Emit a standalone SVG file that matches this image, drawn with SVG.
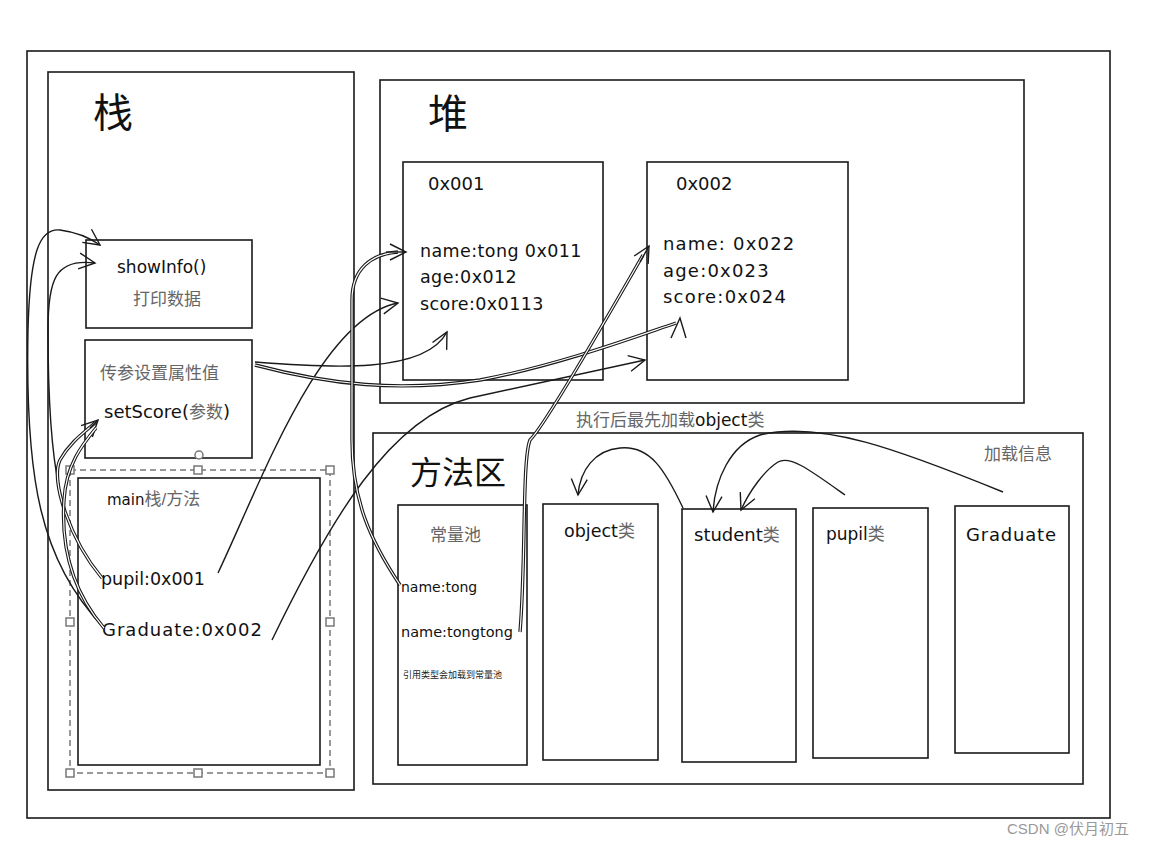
<svg xmlns="http://www.w3.org/2000/svg" width="1158" height="846" viewBox="0 0 1158 846">
<defs>
<style>
.box{fill:none;stroke:#1a1a1a;stroke-width:1.6}
.ln{fill:none;stroke:#1a1a1a;stroke-width:1.4}
.dbl{fill:none;stroke:#1a1a1a;stroke-width:3.4}
.dbli{fill:none;stroke:#fff;stroke-width:1.2}
.hw{font-family:"DejaVu Sans","Liberation Sans",sans-serif;fill:#111}
.cn{font-family:"Liberation Sans","Noto Sans CJK SC",sans-serif;fill:#666}
.big{font-family:"Liberation Serif","Noto Sans CJK SC",serif;fill:#111}
.hd{fill:#fff;stroke:#777;stroke-width:1.5}
</style>
<marker id="ah" viewBox="0 0 20 20" refX="18" refY="10" markerWidth="20" markerHeight="20" markerUnits="userSpaceOnUse" orient="auto">
<path d="M2,2 L18,10 L2,18" fill="none" stroke="#1a1a1a" stroke-width="1.4"/>
</marker>
</defs>
<rect width="1158" height="846" fill="#fff"/>

<g id="frame"><rect class="box" x="27" y="51" width="1083" height="767"/></g>

<g id="stack">
<rect class="box" x="48" y="72" width="306" height="718"/>
<text class="big" x="93" y="127" font-size="40">栈</text>
</g>
<g id="heap">
<rect class="box" x="380" y="80" width="644" height="323"/>
<text class="big" x="428" y="128" font-size="40">堆</text>
</g>
<g id="obj1">
<rect class="box" x="403" y="162" width="200" height="218"/>
<text class="hw" x="428" y="190" font-size="18">0x001</text>
<text class="hw" font-size="17.5" letter-spacing="0.4"><tspan x="420" y="257">name:tong 0x011</tspan><tspan x="420" y="283">age:0x012</tspan><tspan x="420" y="310">score:0x0113</tspan></text>
</g>
<g id="obj2">
<rect class="box" x="647" y="162" width="201" height="218"/>
<text class="hw" x="676" y="190" font-size="18">0x002</text>
<text class="hw" font-size="18" letter-spacing="1.2"><tspan x="663" y="250">name: 0x022</tspan><tspan x="663" y="277">age:0x023</tspan><tspan x="663" y="303">score:0x024</tspan></text>
</g>
<g id="showInfo">
<rect class="box" x="86" y="240" width="166" height="88"/>
<text class="hw" x="117" y="273" font-size="17">showInfo()</text>
<text class="cn" x="133" y="305" font-size="17">打印数据</text>
</g>
<g id="setScore">
<rect class="box" x="85" y="340" width="167" height="118"/>
<text class="cn" x="100" y="379" font-size="17">传参设置属性值</text>
<text class="hw" x="104" y="418" font-size="18">setScore(<tspan class="cn" font-size="17">参数</tspan>)</text>
</g>
<g id="main">
<rect class="box" x="78" y="478" width="242" height="287"/>
<text class="hw" x="107" y="505" font-size="15">main<tspan class="cn" font-size="17">栈/方法</tspan></text>
<text class="hw" x="101" y="585" font-size="17.5">pupil:0x001</text>
<text class="hw" x="102" y="636" font-size="18" letter-spacing="1">Graduate:0x002</text>
</g>
<g id="selection">
<rect x="70" y="470" width="260" height="303" fill="none" stroke="#777" stroke-width="1.5" stroke-dasharray="6,4"/>
<rect class="hd" x="66" y="466" width="8" height="8"/><rect class="hd" x="194" y="466" width="8" height="8"/><rect class="hd" x="326" y="466" width="8" height="8"/>
<rect class="hd" x="66" y="618" width="8" height="8"/><rect class="hd" x="326" y="618" width="8" height="8"/>
<rect class="hd" x="66" y="769" width="8" height="8"/><rect class="hd" x="194" y="769" width="8" height="8"/><rect class="hd" x="326" y="769" width="8" height="8"/>
<circle class="hd" cx="199" cy="455" r="4"/>
</g>

<g id="methodArea">
<rect class="box" x="373" y="433" width="710" height="351"/>
<text class="big" x="410" y="484" font-size="32" fill="#222">方法区</text>
<text class="cn" x="984" y="460" font-size="17">加载信息</text>
</g>
<text class="cn" x="576" y="426" font-size="17">执行后最先加载<tspan class="hw" font-size="17" fill="#111">object</tspan>类</text>
<g id="pool">
<rect class="box" x="398" y="505" width="129" height="260"/>
<text class="cn" x="430" y="541" font-size="17">常量池</text>
<text class="hw" x="401" y="592" font-size="14">name:tong</text>
<text class="hw" x="401" y="637" font-size="14.5">name:tongtong</text>
<text x="403" y="678" font-size="9" font-family="'Noto Sans CJK SC',sans-serif" fill="#222">引用类型会加载到常量池</text>
</g>
<g id="objectClass">
<rect class="box" x="543" y="504" width="115" height="256"/>
<text class="hw" x="564" y="537" font-size="17.5">object<tspan class="cn" font-size="17">类</tspan></text>
</g>
<g id="studentClass">
<rect class="box" x="682" y="509" width="114" height="253"/>
<text class="hw" x="694" y="541" font-size="18">student<tspan class="cn" font-size="17">类</tspan></text>
</g>
<g id="pupilClass">
<rect class="box" x="813" y="508" width="115" height="250"/>
<text class="hw" x="826" y="540" font-size="17">pupil<tspan class="cn" font-size="17">类</tspan></text>
</g>
<g id="graduateClass">
<rect class="box" x="955" y="506" width="114" height="247"/>
<text class="hw" x="966" y="541" font-size="18" letter-spacing="0.8">Graduate</text>
</g>

<g id="connectors">
<path class="ln" d="M218,573 C262,480 320,318 398,303" marker-end="url(#ah)"/>
<path class="ln" d="M272,640 C330,520 390,418 470,398 L645,360" marker-end="url(#ah)"/>
<path class="ln" d="M255,362 C330,368 425,374 447,332" marker-end="url(#ah)"/>
<path class="dbl" d="M255,365 C330,385 400,392 480,380 C560,365 640,335 676,323"/>
<path class="dbli" d="M255,365 C330,385 400,392 480,380 C560,365 640,335 676,323"/>
<path class="ln" d="M671,338 L680,318 L686,338"/>
<path class="dbl" d="M400,585 C370,540 352,500 352,440 L352,300 C352,268 372,254 398,252"/>
<path class="dbli" d="M400,585 C370,540 352,500 352,440 L352,300 C352,268 372,254 398,252"/>
<path class="ln" d="M386,252 L406,252" marker-end="url(#ah)"/>
<path class="dbl" d="M520,632 C526,560 522,460 530,440 C545,425 600,330 643,255"/>
<path class="dbli" d="M520,632 C526,560 522,460 530,440 C545,425 600,330 643,255"/>
<path class="ln" d="M640,262 L649,246" marker-end="url(#ah)"/>
<path class="ln" d="M104,628 C40,560 25,480 28,330 C30,250 40,228 60,230 C75,232 90,238 100,245" marker-end="url(#ah)"/>
<path class="ln" d="M102,578 C60,530 48,470 48,330 C48,280 55,258 95,263" marker-end="url(#ah)"/>
<path class="dbl" d="M102,578 C70,540 50,480 60,460 C70,442 85,432 96,422"/>
<path class="dbli" d="M102,578 C70,540 50,480 60,460 C70,442 85,432 96,422"/>
<path class="ln" d="M90,428 L98,420" marker-end="url(#ah)"/>
<path class="dbl" d="M104,628 C80,600 60,560 64,500 C66,465 82,445 96,428"/>
<path class="dbli" d="M104,628 C80,600 60,560 64,500 C66,465 82,445 96,428"/>
<path class="ln" d="M683,508 C665,470 650,445 620,448 C595,450 580,470 578,495" marker-end="url(#ah)"/>
<path class="ln" d="M1003,492 C900,450 820,420 760,435 C730,445 715,480 713,512" marker-end="url(#ah)"/>
<path class="ln" d="M845,495 C810,470 790,455 778,462 C765,470 750,490 741,510" marker-end="url(#ah)"/>
</g>
<text x="1007" y="834" font-size="15" font-family="'Liberation Sans','Noto Sans CJK SC',sans-serif" fill="#999">CSDN @伏月初五</text>
</svg>
